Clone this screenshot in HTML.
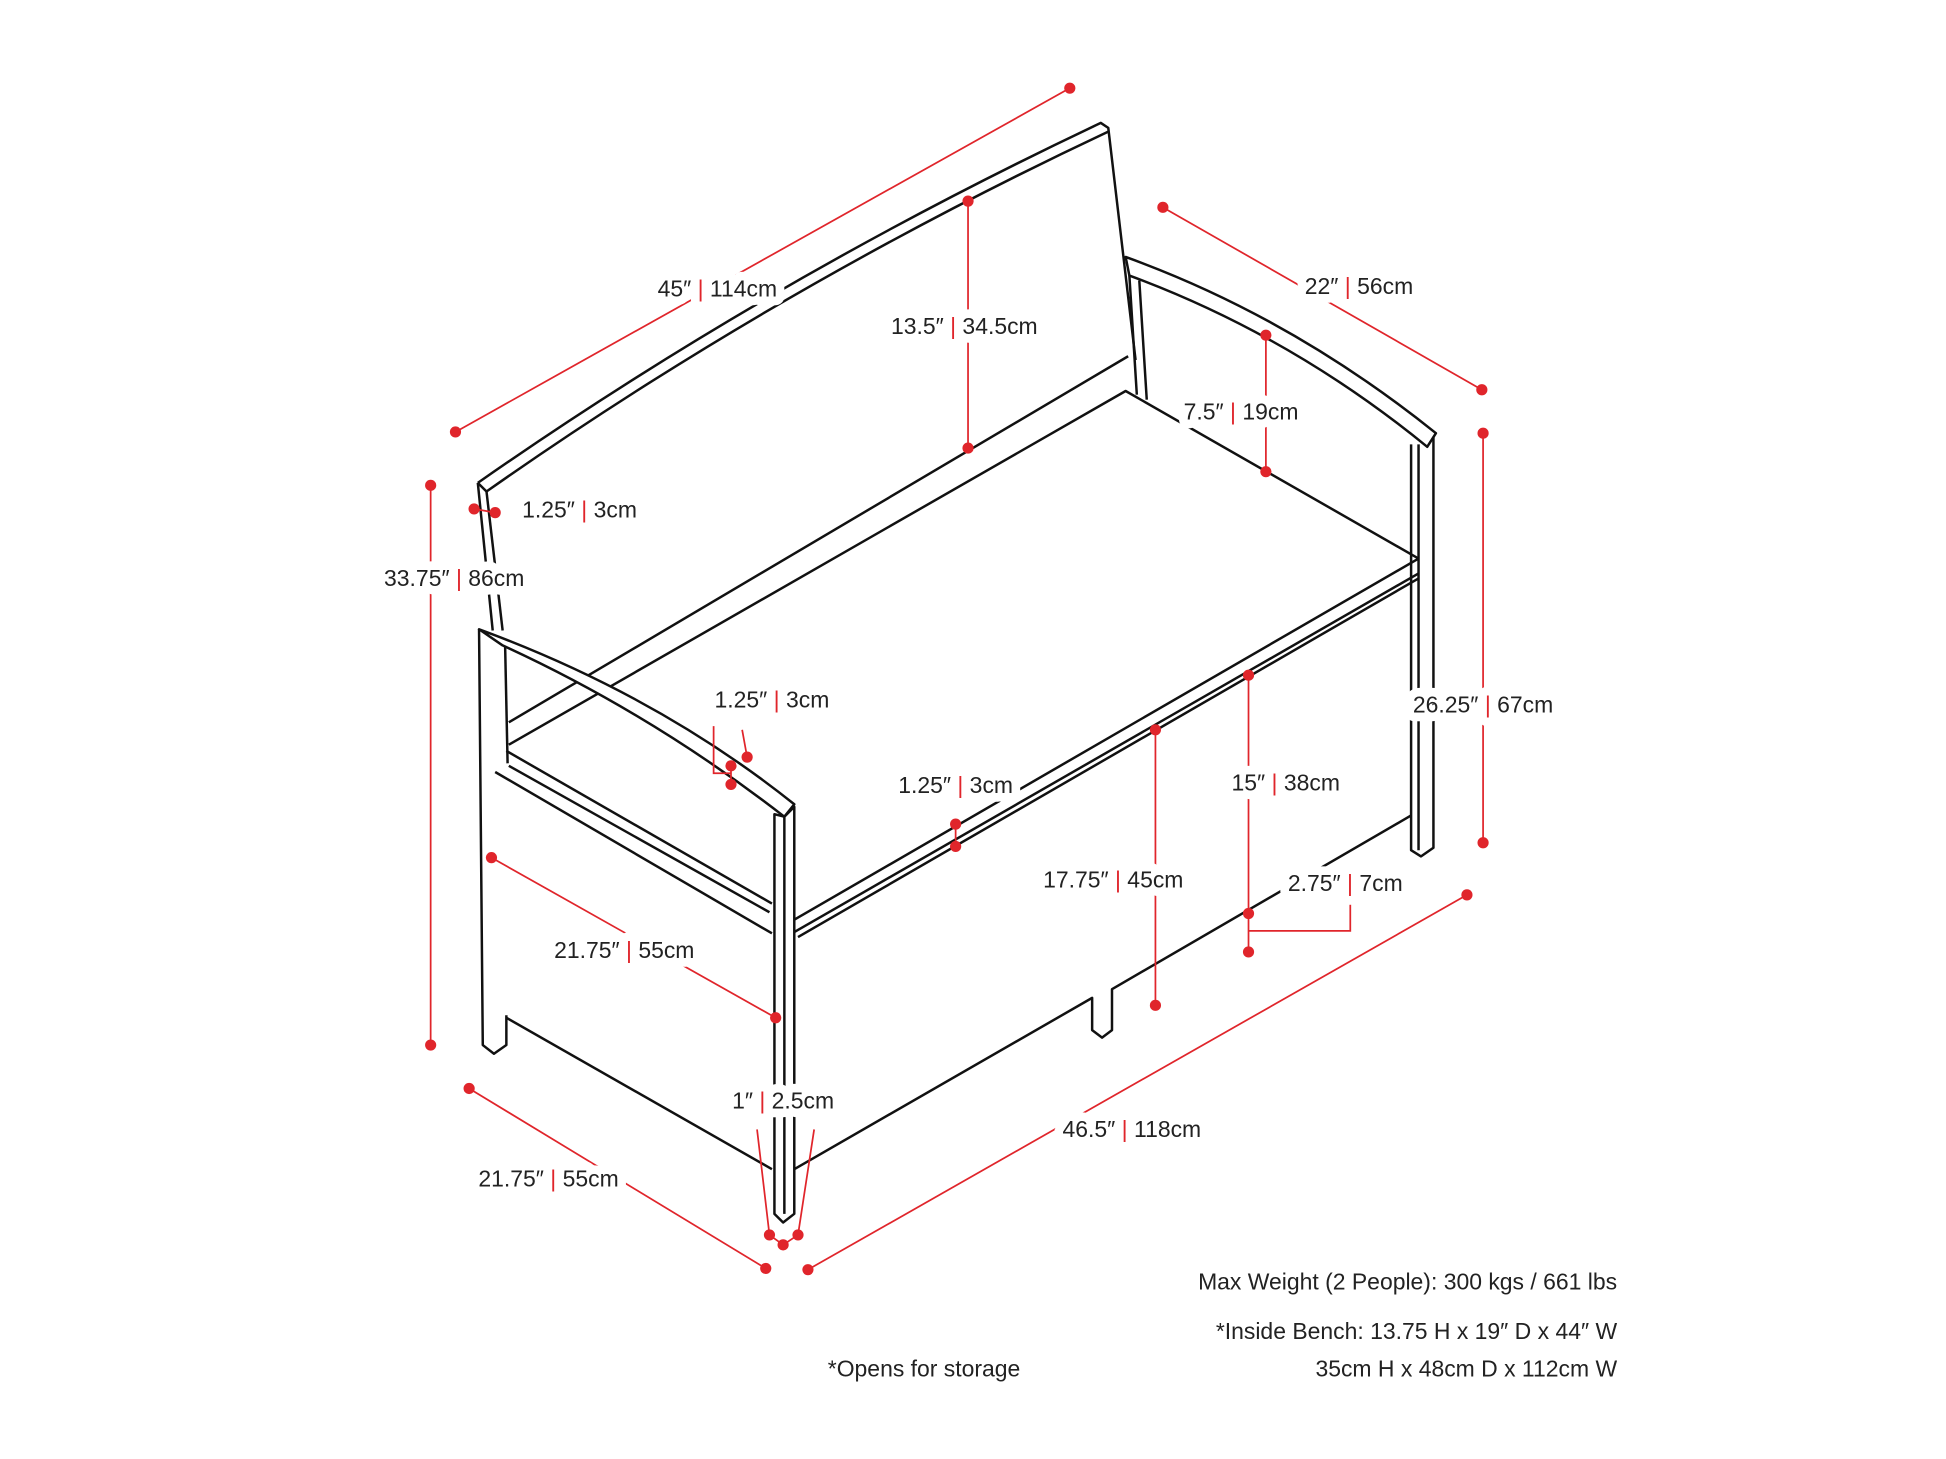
<!DOCTYPE html>
<html><head><meta charset="utf-8"><style>
html,body{margin:0;padding:0;background:#fff;}
svg{display:block;}
text{font-family:"Liberation Sans",sans-serif;font-size:18.5px;fill:#222;}
.lb{paint-order:stroke;stroke:#fff;stroke-width:14px;stroke-linejoin:round;}
.k{fill:none;stroke:#111;stroke-width:2;stroke-linejoin:round;}
.w{fill:#fff;stroke:#111;stroke-width:2;stroke-linejoin:round;}
.r{stroke:#e0252b;stroke-width:1.4;fill:none;}
.d{fill:#e0252b;}
.p{fill:#e0252b;}
</style></head><body>
<svg width="1946" height="1459" viewBox="0 0 1568 1175.5" xmlns="http://www.w3.org/2000/svg">
<!-- back panel -->
<path class="k" d="M385,389 Q620,225 887,99 L893,103 L915,290"/>
<path class="k" d="M392,396 Q625,232 893,106"/>
<path class="k" d="M385,389 L392,396"/>
<path class="k" d="M385,389 L397,508"/>
<path class="k" d="M392,396 L405,508"/>
<!-- back bottom and seat -->
<path class="k" d="M410,582 L909,287"/>
<path class="k" d="M410,600 L907,315 L1143,450"/>
<!-- right arm -->
<path class="w" d="M907,207 Q1040,255 1157,349 L1150,360 Q1040,270 910,222 Z"/>
<path class="k" d="M910,222 L916,318 M918,226 L924,322"/>
<path class="k" d="M1137,358 L1137,685 L1145,690 L1155,683 L1155,352"/>
<path class="k" d="M1143,358 L1143,685"/>
<!-- front rail -->
<path class="k" d="M640,741 L1143,450"/>
<path class="k" d="M640,751 L1143,462"/>
<path class="k" d="M643,755 L1143,466"/>
<!-- bottom box line -->
<path class="k" d="M640,942 L880,804 L880,830 L888,836 L896,830 L896,797 L1137,657"/>
<!-- left side bottom -->
<path class="k" d="M408,820 L622,942"/>
<!-- left arm -->
<path class="k" d="M386,507 L389,842 L398,849 L408,842 L408,818"/>
<path class="k" d="M407,520 L409,615"/>
<path class="k" d="M399,622 L622,752"/>
<path class="k" d="M408,605 L622,728"/>
<path class="k" d="M410,617 L620,735"/>
<path class="w" d="M386,507 Q530,560 640,648 L632,658 Q525,575 405,520 Z"/>
<!-- front post -->
<path class="w" d="M624,656 L624,978 L631,985 L640,978 L640,650 L632,658 Z"/>
<path class="k" d="M632,658 L632,978"/>

<!-- dimensions -->
<g>
<line class="r" x1="367" y1="348" x2="862" y2="71"/>
<circle class="d" cx="367" cy="348" r="4.5"/><circle class="d" cx="862" cy="71" r="4.5"/>
<text class="lb" x="578" y="239" text-anchor="middle">45″ <tspan class="p">|</tspan> 114cm</text>

<line class="r" x1="780" y1="162" x2="780" y2="361"/>
<circle class="d" cx="780" cy="162" r="4.5"/><circle class="d" cx="780" cy="361" r="4.5"/>
<text class="lb" x="777" y="269" text-anchor="middle">13.5″ <tspan class="p">|</tspan> 34.5cm</text>

<line class="r" x1="937" y1="167" x2="1194" y2="314"/>
<circle class="d" cx="937" cy="167" r="4.5"/><circle class="d" cx="1194" cy="314" r="4.5"/>
<text class="lb" x="1095" y="237" text-anchor="middle">22″ <tspan class="p">|</tspan> 56cm</text>

<line class="r" x1="1020" y1="270" x2="1020" y2="380"/>
<circle class="d" cx="1020" cy="270" r="4.5"/><circle class="d" cx="1020" cy="380" r="4.5"/>
<text class="lb" x="1000" y="338" text-anchor="middle">7.5″ <tspan class="p">|</tspan> 19cm</text>

<line class="r" x1="382" y1="410" x2="399" y2="413"/>
<circle class="d" cx="382" cy="410" r="4.5"/><circle class="d" cx="399" cy="413" r="4.5"/>
<text x="467" y="417" text-anchor="middle">1.25″ <tspan class="p">|</tspan> 3cm</text>

<line class="r" x1="347" y1="391" x2="347" y2="842"/>
<circle class="d" cx="347" cy="391" r="4.5"/><circle class="d" cx="347" cy="842" r="4.5"/>
<text class="lb" x="366" y="472" text-anchor="middle">33.75″ <tspan class="p">|</tspan> 86cm</text>

<line class="r" x1="1195" y1="349" x2="1195" y2="679"/>
<circle class="d" cx="1195" cy="349" r="4.5"/><circle class="d" cx="1195" cy="679" r="4.5"/>
<text class="lb" x="1195" y="574" text-anchor="middle">26.25″ <tspan class="p">|</tspan> 67cm</text>

<path class="r" d="M598,588 L602,610 M575,585 L575,623 L589,623 M589,617 L589,632"/>
<circle class="d" cx="602" cy="610" r="4.5"/><circle class="d" cx="589" cy="617" r="4.5"/><circle class="d" cx="589" cy="632" r="4.5"/>
<text x="622" y="570" text-anchor="middle">1.25″ <tspan class="p">|</tspan> 3cm</text>

<line class="r" x1="770" y1="664" x2="770" y2="682"/>
<circle class="d" cx="770" cy="664" r="4.5"/><circle class="d" cx="770" cy="682" r="4.5"/>
<text class="lb" x="770" y="639" text-anchor="middle">1.25″ <tspan class="p">|</tspan> 3cm</text>

<line class="r" x1="931" y1="588" x2="931" y2="810"/>
<circle class="d" cx="931" cy="588" r="4.5"/><circle class="d" cx="931" cy="810" r="4.5"/>
<text class="lb" x="897" y="715" text-anchor="middle">17.75″ <tspan class="p">|</tspan> 45cm</text>

<line class="r" x1="1006" y1="544" x2="1006" y2="767"/>
<circle class="d" cx="1006" cy="544" r="4.5"/><circle class="d" cx="1006" cy="736" r="4.5"/><circle class="d" cx="1006" cy="767" r="4.5"/>
<text class="lb" x="1036" y="637" text-anchor="middle">15″ <tspan class="p">|</tspan> 38cm</text>

<path class="r" d="M1006,750 L1088,750 L1088,726"/>
<text class="lb" x="1084" y="718" text-anchor="middle">2.75″ <tspan class="p">|</tspan> 7cm</text>

<line class="r" x1="396" y1="691" x2="625" y2="820"/>
<circle class="d" cx="396" cy="691" r="4.5"/><circle class="d" cx="625" cy="820" r="4.5"/>
<text class="lb" x="503" y="772" text-anchor="middle">21.75″ <tspan class="p">|</tspan> 55cm</text>

<path class="r" d="M610,910 L620,995 M656,910 L643,995 M620,995 L631,1003 L643,995"/>
<circle class="d" cx="620" cy="995" r="4.5"/><circle class="d" cx="631" cy="1003" r="4.5"/><circle class="d" cx="643" cy="995" r="4.5"/>
<text class="lb" x="631" y="893" text-anchor="middle">1″ <tspan class="p">|</tspan> 2.5cm</text>

<line class="r" x1="378" y1="877" x2="617" y2="1022"/>
<circle class="d" cx="378" cy="877" r="4.5"/><circle class="d" cx="617" cy="1022" r="4.5"/>
<text class="lb" x="442" y="956" text-anchor="middle">21.75″ <tspan class="p">|</tspan> 55cm</text>

<line class="r" x1="651" y1="1023" x2="1182" y2="721"/>
<circle class="d" cx="651" cy="1023" r="4.5"/><circle class="d" cx="1182" cy="721" r="4.5"/>
<text class="lb" x="912" y="916" text-anchor="middle">46.5″ <tspan class="p">|</tspan> 118cm</text>
</g>

<text x="1303" y="1039" text-anchor="end">Max Weight (2 People): 300 kgs / 661 lbs</text>
<text x="1303" y="1079" text-anchor="end">*Inside Bench: 13.75 H x 19″ D x 44″ W</text>
<text x="1303" y="1109" text-anchor="end">35cm H x 48cm D x 112cm W</text>
<text x="667" y="1109">*Opens for storage</text>
</svg>
</body></html>
